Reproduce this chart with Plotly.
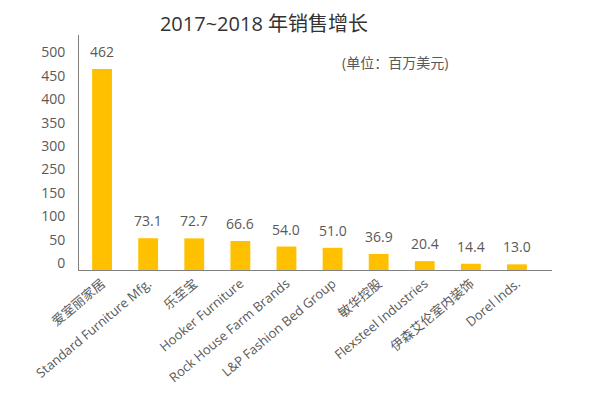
import numpy as np
import plotly.graph_objects as go

categories = ["爱室丽家居", "Standard Furniture Mfg.", "乐至宝", "Hooker Furniture",
              "Rock House Farm Brands", "L&P Fashion Bed Group", "敏华控股",
              "Flexsteel Industries", "伊森艾伦室内装饰", "Dorel Inds."]
values = [462, 73.1, 72.7, 66.6, 54.0, 51.0, 36.9, 20.4, 14.4, 13.0]
value_labels = ["462", "73.1", "72.7", "66.6", "54.0", "51.0", "36.9", "20.4", "14.4", "13.0"]
ytick_text = ["0", "50", "100", "150", "250", "300", "350", "400", "450", "500"]

FONT = "Open Sans, Noto Sans CJK SC, sans-serif"
GRAY = "#595959"

# page body has an 8px default margin; the figure is sized to fit inside it
W, H = 592, 389

fig = go.Figure()
fig.add_trace(go.Bar(
    x=list(range(len(categories))), y=values,
    marker=dict(color="#FFC000", line=dict(width=0)),
    width=0.43, hoverinfo="skip",
))

annotations = []
for i, (v, lab) in enumerate(zip(values, value_labels)):
    annotations.append(dict(x=i, y=v, text=lab, showarrow=False, xref="x", yref="y",
                            yanchor="bottom", yshift=6,
                            font=dict(family=FONT, size=14, color=GRAY)))
annotations.append(dict(x=0.669, y=0.885, xref="paper", yref="paper",
                        xanchor="center", yanchor="middle",
                        text="(单位：百万美元)", showarrow=False,
                        font=dict(family=FONT, size=14, color=GRAY)))

fig.update_layout(
    width=W, height=H,
    margin=dict(l=71, r=48, t=27, b=127),
    paper_bgcolor="white", plot_bgcolor="white",
    showlegend=False,
    title=dict(text="2017~2018 年销售增长", xref="container", yref="container",
               x=(264 - 8) / W, y=1 - (24 - 8) / H, xanchor="center", yanchor="middle",
               font=dict(family=FONT, size=20, color="#333333")),
    annotations=annotations,
    xaxis=dict(range=[-0.5, 9.76], tickmode="array", automargin=False,
               tickvals=list(range(len(categories))), ticktext=categories,
               tickangle=-40, showline=True, linecolor="#808080", linewidth=1,
               showgrid=False, zeroline=False, ticks="",
               tickfont=dict(family=FONT, size=13, color=GRAY)),
    yaxis=dict(range=[0, 540], tickmode="array", automargin=False,
               tickvals=list(np.linspace(16, 500, len(ytick_text))), ticktext=ytick_text,
               showline=True, linecolor="#808080", linewidth=1,
               showgrid=False, zeroline=False, ticks="", ticklabelstandoff=10,
               tickfont=dict(family=FONT, size=14, color=GRAY)),
)

fig.write_html("out.html")
